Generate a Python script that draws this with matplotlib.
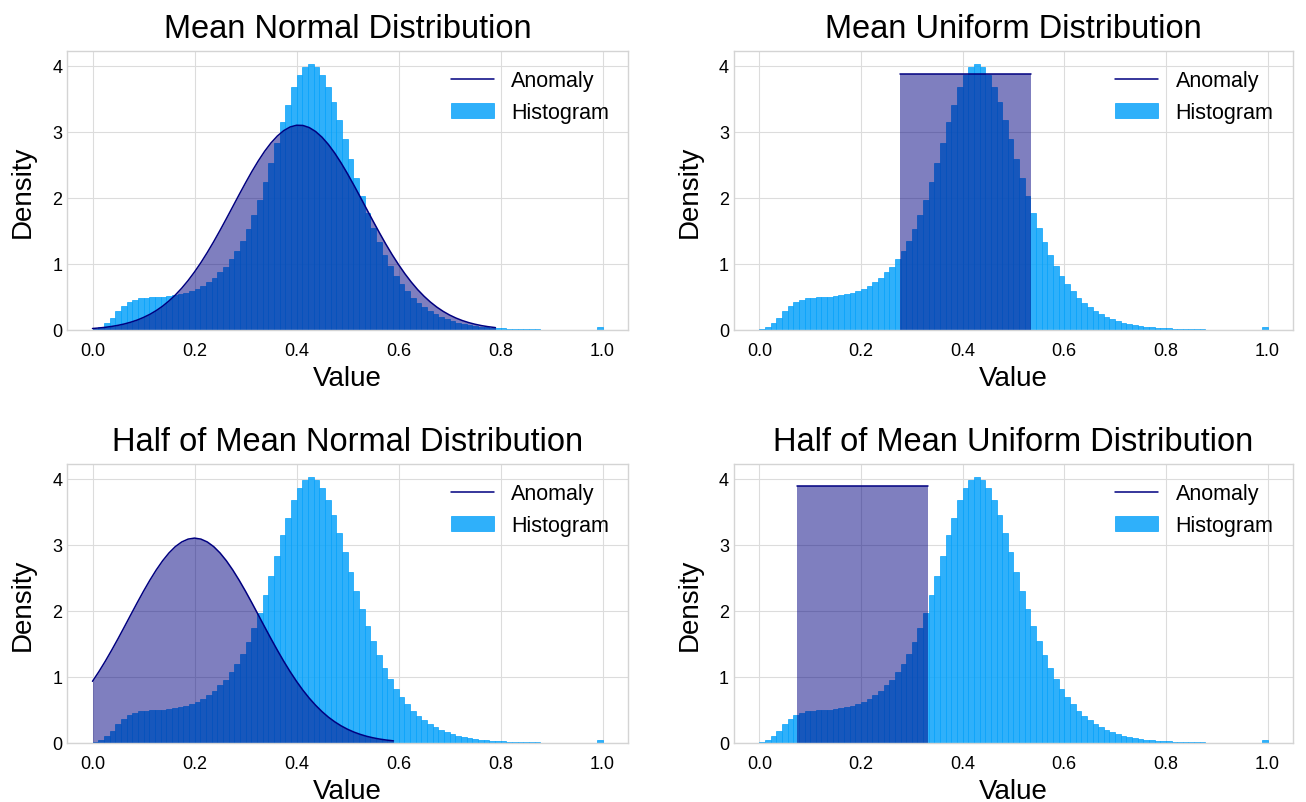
import matplotlib
matplotlib.use("Agg")
import matplotlib.pyplot as plt
import numpy as np

# histogram densities, 90 equal bins over [0, 1]
hist_range = (0.0, 1.0)
n_bins = 90
hist_density = [
    0.015, 0.05, 0.106, 0.18, 0.29, 0.37, 0.42, 0.46, 0.48, 0.49,
    0.495, 0.495, 0.505, 0.515, 0.525, 0.54, 0.56, 0.585, 0.62, 0.67,
    0.73, 0.79, 0.87, 0.96, 1.07,
    1.20, 1.34, 1.53, 1.74, 1.97, 2.24, 2.53, 2.83, 3.14, 3.41,
    3.67, 3.86, 3.98, 4.02, 3.98, 3.86, 3.67, 3.45, 3.17, 2.89,
    2.59, 2.30, 2.03, 1.77, 1.54, 1.33, 1.14, 0.97, 0.82,
    0.69, 0.59, 0.49, 0.41, 0.35, 0.29, 0.24, 0.20, 0.17, 0.14,
    0.11, 0.09, 0.07, 0.06,
    0.05, 0.04, 0.034, 0.028, 0.023, 0.019, 0.016, 0.013, 0.011, 0.009,
    0.008, 0.007, 0.006, 0.005, 0.004, 0.004, 0.003, 0.003, 0.003, 0.002,
    0.002,
    0.05,
]

# anomaly curves
mean_normal_x = [0.0, 0.0125, 0.025, 0.0375, 0.05, 0.0625, 0.075, 0.0875,
                 0.1, 0.1125, 0.125, 0.1375, 0.15, 0.1625, 0.175, 0.1875,
                 0.2, 0.2125, 0.225, 0.2375, 0.25, 0.2625, 0.275, 0.2875,
                 0.3, 0.3125, 0.325, 0.3375, 0.35, 0.3625, 0.375, 0.3875,
                 0.4, 0.4125, 0.425, 0.4375, 0.45, 0.4625, 0.475, 0.4875,
                 0.5, 0.5125, 0.525, 0.5375, 0.55, 0.5625, 0.575, 0.5875,
                 0.6, 0.6125, 0.625, 0.6375, 0.65, 0.6625, 0.675, 0.6875,
                 0.7, 0.7125, 0.725, 0.7375, 0.75, 0.7625, 0.775, 0.79]
mean_normal_y = [0.0225, 0.0304, 0.0406, 0.0537, 0.0704, 0.0915, 0.118, 0.150,
                 0.190, 0.237, 0.294, 0.361, 0.440, 0.530, 0.633, 0.749,
                 0.878, 1.019, 1.172, 1.335, 1.507, 1.685, 1.866, 2.048,
                 2.226, 2.398, 2.558, 2.704, 2.831, 2.936, 3.017, 3.072,
                 3.098, 3.095, 3.063, 3.003, 2.917, 2.807, 2.676, 2.527,
                 2.364, 2.191, 2.012, 1.830, 1.649, 1.472, 1.301, 1.140,
                 0.990, 0.851, 0.725, 0.611, 0.511, 0.423, 0.347, 0.282,
                 0.227, 0.181, 0.143, 0.112, 0.0869, 0.0667, 0.0508, 0.036]

half_normal_x = [0.0, 0.0125, 0.025, 0.0375, 0.05, 0.0625, 0.075, 0.0875,
                 0.1, 0.1125, 0.125, 0.1375, 0.15, 0.1625, 0.175, 0.1875,
                 0.2, 0.2125, 0.225, 0.2375, 0.25, 0.2625, 0.275, 0.2875,
                 0.3, 0.3125, 0.325, 0.3375, 0.35, 0.3625, 0.375, 0.3875,
                 0.4, 0.4125, 0.425, 0.4375, 0.45, 0.4625, 0.475, 0.4875,
                 0.5, 0.5125, 0.525, 0.5375, 0.55, 0.5625, 0.575, 0.59]
half_normal_y = [0.933, 1.079, 1.236, 1.403, 1.577, 1.757, 1.939, 2.120,
                 2.296, 2.463, 2.618, 2.757, 2.876, 2.972, 3.042, 3.085,
                 3.100, 3.085, 3.042, 2.972, 2.876, 2.757, 2.618, 2.463,
                 2.296, 2.120, 1.939, 1.757, 1.577, 1.403, 1.236, 1.079,
                 0.933, 0.799, 0.678, 0.570, 0.4745, 0.391, 0.320, 0.259,
                 0.208, 0.165, 0.130, 0.101, 0.0783, 0.0599, 0.0454, 0.0322]

mean_uniform_x = [0.277, 0.535]
mean_uniform_y = [3.88, 3.88]

half_uniform_x = [0.0745, 0.332]
half_uniform_y = [3.89, 3.89]

titles = ["Mean Normal Distribution", "Mean Uniform Distribution",
          "Half of Mean Normal Distribution", "Half of Mean Uniform Distribution"]
curves = [(mean_normal_x, mean_normal_y), (mean_uniform_x, mean_uniform_y),
          (half_normal_x, half_normal_y), (half_uniform_x, half_uniform_y)]

plt.style.use("seaborn-v0_8-whitegrid")
plt.rcParams["font.family"] = ["Liberation Sans", "DejaVu Sans"]
plt.rcParams["text.color"] = "black"
plt.rcParams["axes.labelcolor"] = "black"
plt.rcParams["xtick.color"] = "black"
plt.rcParams["ytick.color"] = "black"
plt.rcParams["grid.color"] = "#dcdcdc"
plt.rcParams["axes.edgecolor"] = "#d4d4d4"

fig = plt.figure(figsize=(13.06, 8.03), dpi=100)

# axes boxes in figure fractions: left, bottom, width, height
boxes = [
    [0.0513, 0.5878, 0.4296, 0.3474],
    [0.5620, 0.5878, 0.4280, 0.3474],
    [0.0513, 0.0735, 0.4296, 0.3474],
    [0.5620, 0.0735, 0.4280, 0.3474],
]

edges = np.linspace(hist_range[0], hist_range[1], n_bins + 1)
centers = (edges[:-1] + edges[1:]) / 2

for box, title, (cx, cy) in zip(boxes, titles, curves):
    ax = fig.add_axes(box)
    ax.plot(cx, cy, color="navy", lw=1.1, label="Anomaly")
    ax.hist(centers, bins=edges, weights=hist_density, color="#0aa3fa",
            alpha=0.85, edgecolor="#0aa3fa", linewidth=0.6, label="Histogram")
    ax.fill_between(cx, cy, color="navy", alpha=0.5, linewidth=0)
    ax.set_title(title, fontsize=23.5, pad=10)
    ax.set_xlabel("Value", fontsize=20)
    ax.set_ylabel("Density", fontsize=20, labelpad=12)
    ax.tick_params(labelsize=13)
    ax.tick_params(axis="x", pad=9)
    ax.set_xticks([0.0, 0.2, 0.4, 0.6, 0.8, 1.0])
    ax.set_yticks([0, 1, 2, 3, 4])
    ax.legend(loc="upper right", fontsize=15.5, frameon=False)

fig.savefig("out.png", dpi=100)
